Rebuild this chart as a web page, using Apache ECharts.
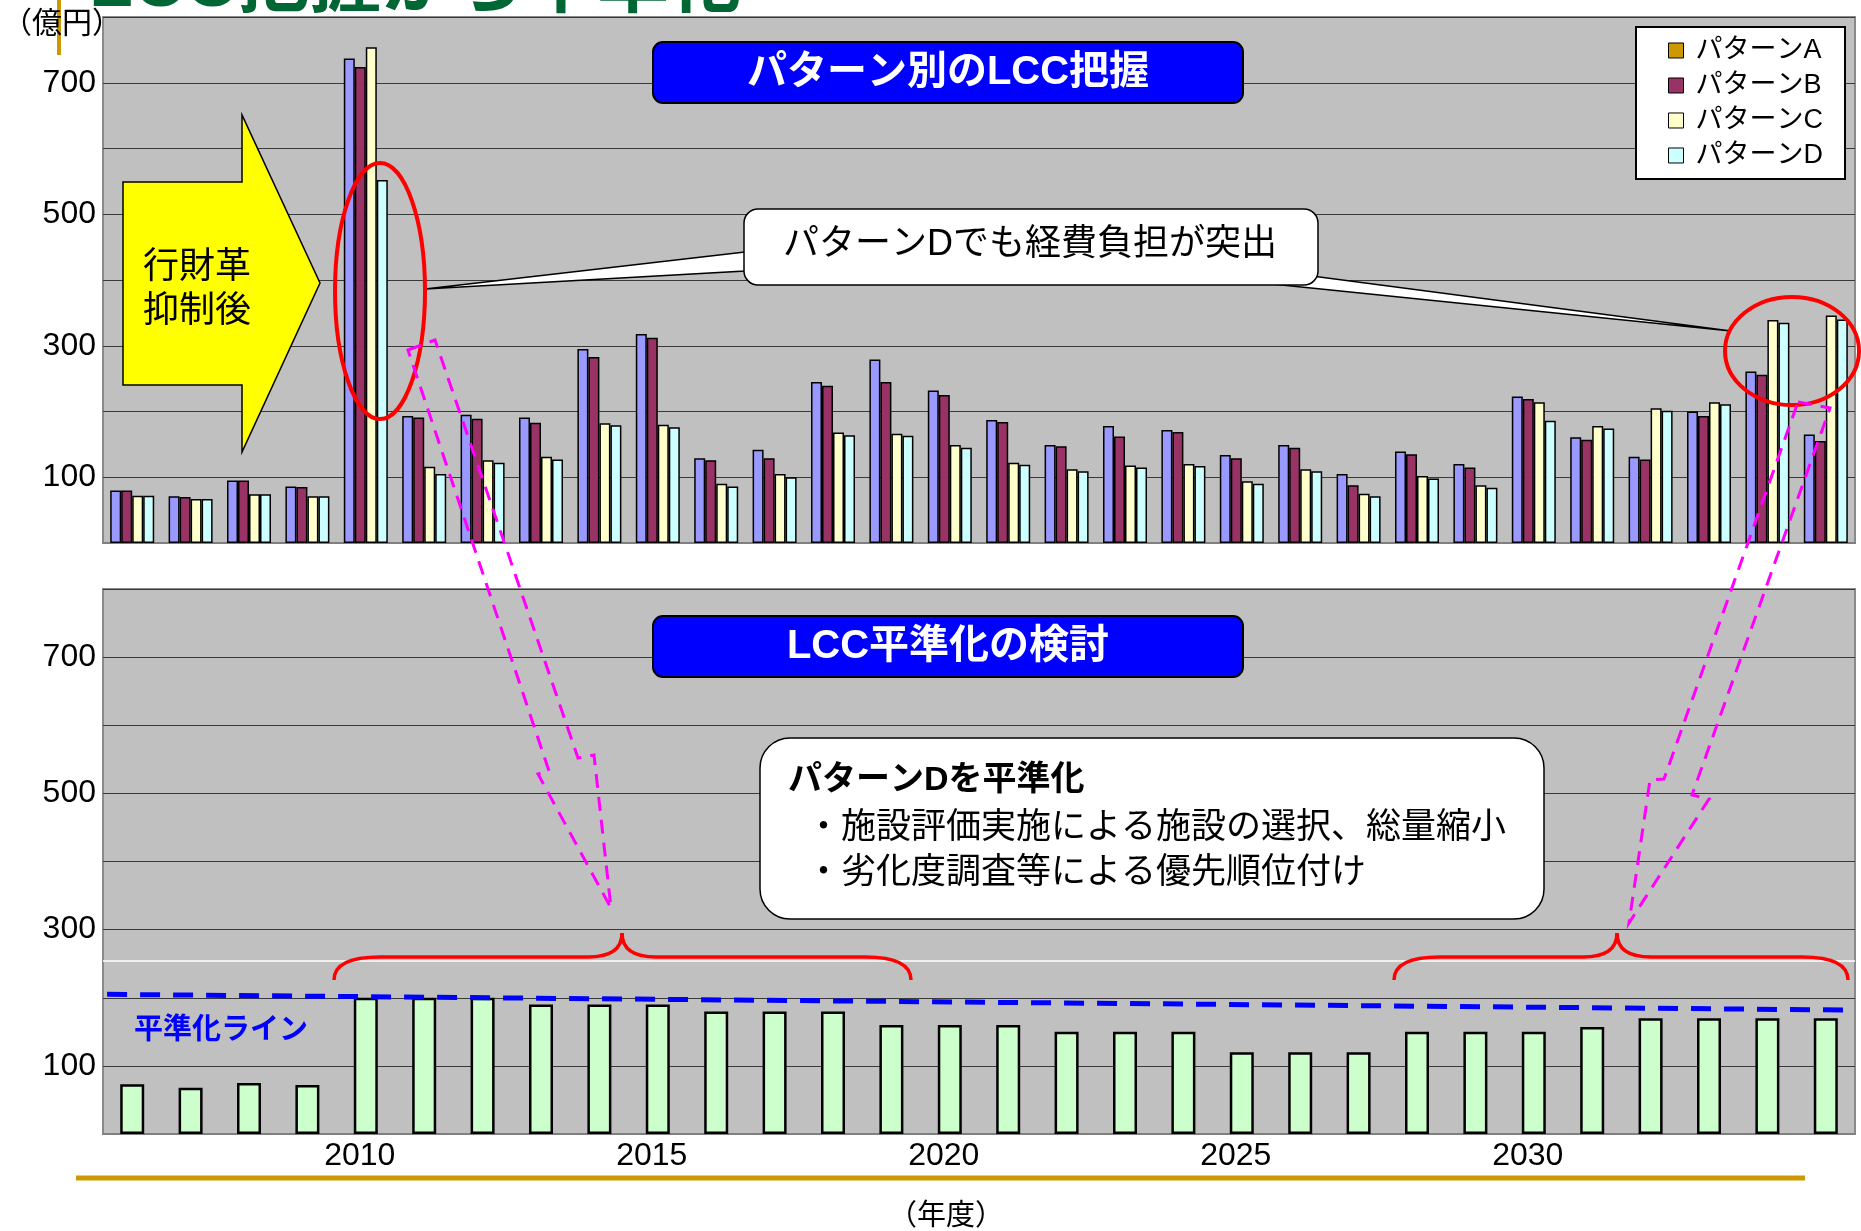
<!DOCTYPE html>
<html>
<head>
<meta charset="utf-8">
<script src="https://cdn.jsdelivr.net/npm/echarts@6/dist/echarts.min.js"></script>
<style>
html,body{margin:0;padding:0;background:#fff;}
#chart{width:1861px;height:1231px;}
</style>
</head>
<body>
<div id="chart"></div>
<script>
// ---- data ----
const years = ['2006','2007','2008','2009','2010','2011','2012','2013','2014','2015','2016','2017','2018','2019','2020','2021','2022','2023','2024','2025','2026','2027','2028','2029','2030','2031','2032','2033','2034','2035'];
const patternA = [80, 71, 95, 86, 737, 193, 195, 191, 295, 318, 129, 142, 245, 279, 232, 187, 149, 178, 172, 134, 149, 105, 139, 120, 223, 161, 131, 200, 261, 165];
const patternB = [80, 70, 95, 85, 724, 191, 189, 183, 283, 312, 126, 129, 239, 245, 225, 184, 147, 162, 169, 129, 145, 88, 135, 115, 219, 157, 127, 193, 256, 155];
const patternC = [72, 67, 74, 71, 754, 116, 126, 131, 182, 180, 90, 105, 168, 166, 149, 122, 112, 118, 120, 94, 112, 75, 102, 88, 214, 178, 205, 214, 339, 346];
const patternD = [72, 67, 74, 71, 552, 105, 122, 127, 179, 176, 86, 100, 164, 163, 145, 119, 109, 115, 117, 90, 109, 71, 98, 84, 186, 174, 201, 211, 335, 340];
const leveledD = [73, 68, 75, 72, 200, 200, 200, 190, 190, 190, 180, 180, 180, 160, 160, 160, 150, 150, 150, 120, 120, 120, 150, 150, 150, 157, 170, 170, 170, 170];
const levelLineX = [-0.43, 29.33];
const levelLineY = [205, 182];
const separatorValue = 255;
const yTickLabels = [100, 300, 500, 700];
const xTickLabels = ['2010', '2015', '2020', '2025', '2030'];
const seriesNames = ['パターンA', 'パターンB', 'パターンC', 'パターンD'];

// ---- styles ----
const FONT = "'Liberation Sans', Arial, 'Noto Sans CJK JP', sans-serif";
const barColors = ['#9999FF', '#993366', '#FFFFCC', '#CCFFFF'];
const legendColors = ['#CC9900', '#993366', '#FFFFCC', '#CCFFFF'];

const chart = echarts.init(document.getElementById('chart'), null, {renderer: 'canvas'});

function yAxisCfg(gi) {
  return {
    gridIndex: gi, type: 'value', min: 0, max: 800, interval: 100,
    axisLabel: {
      formatter: v => yTickLabels.includes(v) ? String(v) : '',
      fontSize: 32, color: '#000', fontFamily: FONT, margin: 7
    },
    axisLine: {show: false}, axisTick: {show: false},
    splitLine: {show: true, lineStyle: {color: '#3a3a3a', width: 1}}
  };
}

const topData = [patternA, patternB, patternC, patternD];
const barSeries = topData.map((d, i) => ({
  name: seriesNames[i], type: 'bar', xAxisIndex: 0, yAxisIndex: 0,
  data: d, barWidth: 11, barGap: '0%',
  itemStyle: {color: barColors[i], borderColor: '#000', borderWidth: 1.5},
  emphasis: {disabled: true}, animation: false
}));

const T = (text, x, y, font, fill, align) => ({
  type: 'text', z: 120,
  style: {text, x, y, font, fill, textAlign: align || 'left', textVerticalAlign: 'middle'}
});

// curly brace made of quadratic curves and straight lines (annotation only)
function brace(x0, x1, tip, yEnd, yMid, yTip) {
  const st = {fill: 'none', stroke: '#FF0000', lineWidth: 3.5};
  const c = 46, t = 34;
  return [
    {type: 'bezierCurve', z: 115, shape: {x1: x0, y1: yEnd, cpx1: x0, cpy1: yMid, x2: x0 + c, y2: yMid}, style: st},
    {type: 'line', z: 115, shape: {x1: x0 + c, y1: yMid, x2: tip - t, y2: yMid}, style: st},
    {type: 'bezierCurve', z: 115, shape: {x1: tip - t, y1: yMid, cpx1: tip, cpy1: yMid, x2: tip, y2: yTip}, style: st},
    {type: 'bezierCurve', z: 115, shape: {x1: tip, y1: yTip, cpx1: tip, cpy1: yMid, x2: tip + t, y2: yMid}, style: st},
    {type: 'line', z: 115, shape: {x1: tip + t, y1: yMid, x2: x1 - c, y2: yMid}, style: st},
    {type: 'bezierCurve', z: 115, shape: {x1: x1 - c, y1: yMid, cpx1: x1, cpy1: yMid, x2: x1, y2: yEnd}, style: st}
  ];
}

const graphics = [
  // title (cut off at the top edge)
  T('LCC把握から平準化', 89, -14, "bold 72px 'Liberation Sans', 'Noto Sans CJK JP'", '#006633', 'left'),
  // gold rules
  {type: 'line', z: 120, shape: {x1: 59, y1: 0, x2: 59, y2: 55}, style: {stroke: '#CC9900', lineWidth: 4}},
  {type: 'line', z: 120, shape: {x1: 76, y1: 1178, x2: 1805, y2: 1178}, style: {stroke: '#CC9900', lineWidth: 5}},
  T('（億円）', 2, 22, "30px 'Noto Sans CJK JP'", '#000', 'left'),
  T('（年度）', 946, 1214, "29px 'Noto Sans CJK JP'", '#000', 'center'),

  // yellow arrow
  {type: 'polygon', z: 110, shape: {points: [[123,182],[242,182],[242,115],[320,283],[242,452],[242,385],[123,385]]},
   style: {fill: '#FFFF00', stroke: '#000', lineWidth: 1.5}},
  T('行財革', 143, 264, "36px 'Noto Sans CJK JP'", '#000', 'left'),
  T('抑制後', 143, 308, "36px 'Noto Sans CJK JP'", '#000', 'left'),

  // callout wedges (top)
  {type: 'polygon', z: 110, shape: {points: [[745,252],[425,289],[745,271]]}, style: {fill: '#fff', stroke: '#000', lineWidth: 1.5}},
  {type: 'polygon', z: 110, shape: {points: [[1272,284],[1731,331],[1312,276]]}, style: {fill: '#fff', stroke: '#000', lineWidth: 1.5}},
  {type: 'rect', z: 111, shape: {x: 744, y: 209, width: 574, height: 76, r: 14}, style: {fill: '#fff', stroke: '#000', lineWidth: 1.5}},
  T('パターンDでも経費負担が突出', 1030, 245, "36px 'Liberation Sans', 'Noto Sans CJK JP'", '#000', 'center'),

  // red ellipses
  {type: 'ellipse', z: 115, shape: {cx: 380, cy: 291, rx: 45, ry: 128}, style: {fill: 'none', stroke: '#FF0000', lineWidth: 4}},
  {type: 'ellipse', z: 115, shape: {cx: 1792, cy: 351, rx: 67, ry: 54}, style: {fill: 'none', stroke: '#FF0000', lineWidth: 4}},

  // blue title boxes
  {type: 'rect', z: 111, shape: {x: 653, y: 42, width: 590, height: 61, r: 10}, style: {fill: '#0000FF', stroke: '#000', lineWidth: 2}},
  T('パターン別のLCC把握', 948, 73, "bold 40px 'Liberation Sans', 'Noto Sans CJK JP'", '#fff', 'center'),
  {type: 'rect', z: 111, shape: {x: 653, y: 616, width: 590, height: 61, r: 10}, style: {fill: '#0000FF', stroke: '#000', lineWidth: 2}},
  T('LCC平準化の検討', 948, 647, "bold 40px 'Liberation Sans', 'Noto Sans CJK JP'", '#fff', 'center'),

  // bottom callout
  {type: 'rect', z: 111, shape: {x: 760, y: 738, width: 784, height: 181, r: 30}, style: {fill: '#fff', stroke: '#000', lineWidth: 1.5}},
  T('パターンDを平準化', 788, 781, "bold 34px 'Liberation Sans', 'Noto Sans CJK JP'", '#000', 'left'),
  T('・施設評価実施による施設の選択、総量縮小', 806, 825, "35px 'Noto Sans CJK JP'", '#000', 'left'),
  T('・劣化度調査等による優先順位付け', 806, 870, "35px 'Noto Sans CJK JP'", '#000', 'left'),

  // magenta dashed arrows
  {type: 'polygon', z: 116, shape: {points: [[408,350],[435,340],[578,758],[594,755],[611,908],[538,774],[549,771]]},
   style: {fill: 'none', stroke: '#FF00FF', lineWidth: 3, lineDash: [14, 9]}},
  {type: 'polygon', z: 116, shape: {points: [[1798,402],[1830,408],[1692,795],[1709,799],[1629,923],[1650,780],[1664,779]]},
   style: {fill: 'none', stroke: '#FF00FF', lineWidth: 3, lineDash: [14, 9]}},

  T('平準化ライン', 134, 1028, "bold 29px 'Noto Sans CJK JP'", '#0000FF', 'left')
].concat(brace(334, 911, 622, 980, 957, 933), brace(1394, 1848, 1617, 980, 957, 933));

const option = {
  animation: false,
  backgroundColor: '#fff',
  grid: [
    {left: 103, top: 17, width: 1752, height: 526, show: true, backgroundColor: '#C0C0C0', borderColor: '#8a8a8a', borderWidth: 2},
    {left: 103, top: 589, width: 1752, height: 545, show: true, backgroundColor: '#C0C0C0', borderColor: '#8a8a8a', borderWidth: 2}
  ],
  legend: {
    orient: 'vertical', left: 1636, top: 27,
    backgroundColor: '#fff', borderColor: '#000', borderWidth: 2,
    padding: [10, 22, 10, 32], itemGap: 8, itemWidth: 15, itemHeight: 15,
    icon: 'rect', selectedMode: false,
    textStyle: {fontSize: 27, color: '#000', fontFamily: FONT, padding: [0, 0, 0, 7]},
    data: seriesNames.map((n, i) => ({name: n, itemStyle: {color: legendColors[i], borderColor: '#000', borderWidth: 1}}))
  },
  xAxis: [
    {gridIndex: 0, type: 'category', data: years, axisLabel: {show: false}, axisTick: {show: false},
     axisLine: {show: true, lineStyle: {color: '#808080', width: 2}}, splitLine: {show: false}},
    {gridIndex: 1, type: 'category', data: years, axisTick: {show: false},
     axisLabel: {interval: 0, formatter: v => xTickLabels.includes(v) ? v : '', fontSize: 32, color: '#000', fontFamily: FONT, margin: 6, padding: [0, 12, 0, 0]},
     axisLine: {show: true, lineStyle: {color: '#808080', width: 2}}, splitLine: {show: false}},
    {gridIndex: 1, type: 'value', min: -0.5, max: 29.5, show: false}
  ],
  yAxis: [yAxisCfg(0), yAxisCfg(1)],
  series: barSeries.concat([
    {name: '平準化', type: 'bar', xAxisIndex: 1, yAxisIndex: 1, data: leveledD, barWidth: 24,
     itemStyle: {color: '#CCFFCC', borderColor: '#000', borderWidth: 2.5},
     emphasis: {disabled: true},
     markLine: {silent: true, symbol: 'none', label: {show: false},
       lineStyle: {color: '#ffffff', width: 1.5, type: 'solid'}, data: [{yAxis: separatorValue}]}},
    {name: '平準化ライン', type: 'line', xAxisIndex: 2, yAxisIndex: 1,
     data: levelLineX.map((x, i) => [x, levelLineY[i]]), symbol: 'none', z: 5,
     lineStyle: {color: '#0000FF', width: 5, type: [20, 13]}}
  ]),
  graphic: graphics
};
chart.setOption(option);
</script>
</body>
</html>
